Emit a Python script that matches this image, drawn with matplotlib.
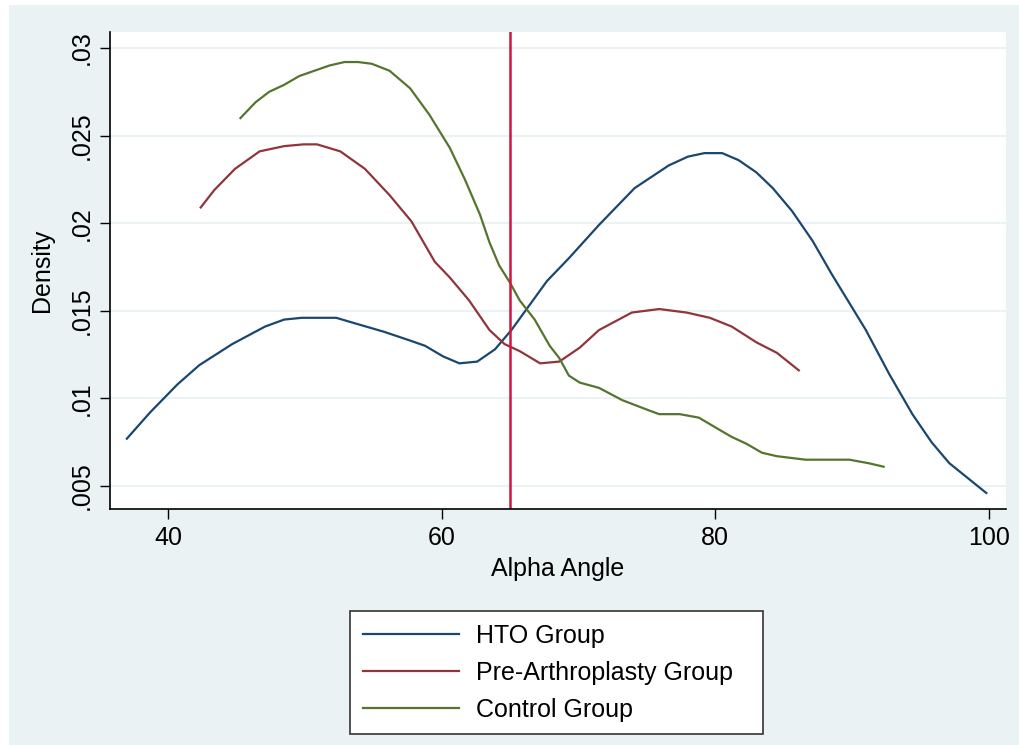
import matplotlib.pyplot as plt
import matplotlib.patches as patches

plt.rcParams["font.family"] = ["Liberation Sans", "DejaVu Sans"]

# kernel density curves (alpha angle, density)
hto_x = [37.0, 38.7, 40.7, 42.3, 44.7, 47.1, 48.5, 49.8, 52.3, 53.6, 55.8, 57.7, 58.8, 60.1,
         61.3, 62.6, 63.9, 65.1, 66.4, 67.7, 69.3, 71.5, 74.1, 76.6, 78.0, 79.2, 80.5, 81.7,
         83.0, 84.2, 85.6, 87.1, 88.5, 91.0, 92.7, 94.4, 95.8, 97.1, 99.8]
hto_y = [0.0077, 0.0092, 0.0108, 0.0119, 0.0131, 0.0141, 0.0145, 0.0146, 0.0146, 0.0143,
         0.0138, 0.0133, 0.0130, 0.0124, 0.0120, 0.0121, 0.0128, 0.0139, 0.0153, 0.0167,
         0.0180, 0.0199, 0.0220, 0.0233, 0.0238, 0.0240, 0.0240, 0.0236, 0.0229, 0.0220,
         0.0207, 0.0190, 0.0171, 0.0139, 0.0114, 0.0091, 0.0075, 0.0063, 0.0046]

pre_x = [42.4, 43.4, 44.9, 46.7, 48.5, 49.9, 50.9, 52.6, 54.4, 56.2, 57.8, 59.5, 60.6, 62.0,
         63.5, 64.6, 65.7, 67.2, 68.6, 70.1, 71.5, 73.9, 75.9, 77.9, 79.6, 81.2, 83.0, 84.5,
         86.1]
pre_y = [0.0209, 0.0219, 0.0231, 0.0241, 0.0244, 0.0245, 0.0245, 0.0241, 0.0231, 0.0216,
         0.0201, 0.0178, 0.0169, 0.0156, 0.0139, 0.0131, 0.0127, 0.0120, 0.0121, 0.0129,
         0.0139, 0.0149, 0.0151, 0.0149, 0.0146, 0.0141, 0.0132, 0.0126, 0.0116]

ctrl_x = [45.3, 46.4, 47.4, 48.5, 49.6, 50.7, 51.8, 52.9, 53.9, 54.9, 56.2, 57.7, 59.1, 60.6,
          61.7, 62.8, 63.5, 64.2, 65.0, 65.7, 66.8, 67.9, 68.6, 69.3, 70.1, 71.5, 73.2, 75.2,
          75.9, 77.4, 78.8, 80.1, 81.2, 82.3, 83.4, 84.5, 86.6, 88.1, 89.8, 91.2, 92.3]
ctrl_y = [0.0260, 0.0269, 0.0275, 0.0279, 0.0284, 0.0287, 0.0290, 0.0292, 0.0292, 0.0291,
          0.0287, 0.0277, 0.0262, 0.0243, 0.0225, 0.0205, 0.0189, 0.0176, 0.0166, 0.0156,
          0.0145, 0.0130, 0.0123, 0.0113, 0.0109, 0.0106, 0.0099, 0.0093, 0.0091, 0.0091,
          0.0089, 0.0083, 0.0078, 0.0074, 0.0069, 0.0067, 0.0065, 0.0065, 0.0065, 0.0063,
          0.0061]

cutoff = 65
x_ticks = [40, 60, 80, 100]
y_ticks = [0.005, 0.01, 0.015, 0.02, 0.025, 0.03]
y_tick_labels = [".005", ".01", ".015", ".02", ".025", ".03"]
labels = ["HTO Group", "Pre-Arthroplasty Group", "Control Group"]

bg = "#eaf2f3"
fig = plt.figure(figsize=(10.19, 7.45), dpi=100)
fig.patch.set_facecolor("white")
fig.patches.append(patches.Rectangle((9 / 1019, 0), 1, 1 - 5 / 745, transform=fig.transFigure,
                                     facecolor=bg, edgecolor="none", zorder=-10))

ax = fig.add_axes([110 / 1019, 1 - 509 / 745, 896 / 1019, 477 / 745])
ax.set_facecolor("white")

ax.plot(hto_x, hto_y, color="#1a476f", lw=1.6, label=labels[0])
ax.plot(pre_x, pre_y, color="#90353b", lw=1.6, label=labels[1])
ax.plot(ctrl_x, ctrl_y, color="#55752f", lw=1.6, label=labels[2])
ax.axvline(cutoff, color="#d0163f", lw=1.8)

ax.set_xlim(35.77, 101.24)
ax.set_ylim(0.003686, 0.030914)
ax.set_xticks(x_ticks)
ax.set_yticks(y_ticks)
ax.set_yticklabels(y_tick_labels, rotation=90, va="center")
ax.tick_params(axis="both", labelsize=18, length=7, width=1, direction="out", pad=5)
ax.grid(axis="y", color=bg, lw=1.5)
ax.set_axisbelow(True)

for side in ["top", "right"]:
    ax.spines[side].set_visible(False)
for side in ["left", "bottom"]:
    ax.spines[side].set_linewidth(1.2)

ax.set_xlabel("Alpha Angle", fontsize=18, labelpad=5)
ax.set_ylabel("Density", fontsize=18, labelpad=11)

leg = fig.legend(loc="upper left", bbox_to_anchor=(350 / 1019, 1 - 612 / 745, 413 / 1019, 0.001),
                 mode="expand", borderaxespad=0, fontsize=18, handlelength=3.85,
                 handletextpad=0.7, labelspacing=0.52, borderpad=0.5, fancybox=False,
                 framealpha=1)
leg.get_frame().set_edgecolor("#333333")
leg.get_frame().set_linewidth(1.2)

fig.savefig("out.png", dpi=100)
